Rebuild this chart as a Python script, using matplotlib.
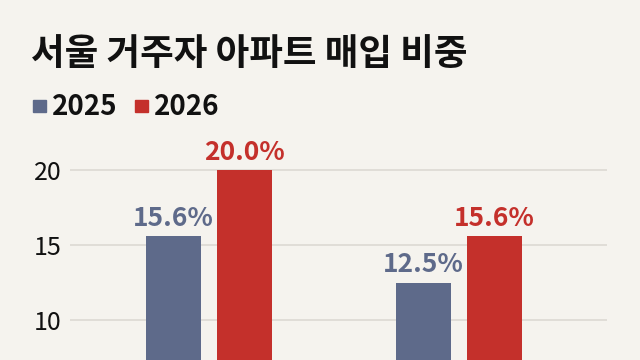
import matplotlib
matplotlib.use("Agg")
import matplotlib.pyplot as plt
import numpy as np

plt.rcParams['font.family'] = ['Noto Sans CJK KR', 'DejaVu Sans']

title = "서울 거주자 아파트 매입 비중"
series_names = ["2025", "2026"]
values_2025 = [15.6, 12.5]
values_2026 = [20.0, 15.6]
yticks = [10, 15, 20]

bg = "#f5f3ee"
c_blue = "#5e6a8a"
c_red = "#c4302b"

fig = plt.figure(figsize=(6.4, 3.6), dpi=100, facecolor=bg)
# axes extends below figure bottom (chart is cropped)
ax = fig.add_axes([70/640, -110/360, (607-70)/640, 330/360])
ax.set_facecolor(bg)
ax.set_ylim(0, 22)
ax.set_xlim(-0.556, 1.592)

x = np.arange(len(values_2025))
w = 0.22
off = 0.143
for xs, vals, col in [(x - off, values_2025, c_blue), (x + off, values_2026, c_red)]:
    ax.bar(xs, vals, width=w, color=col, zorder=3)
    for xi, v in zip(xs, vals):
        ax.text(xi, v + 0.68, f"{v:.1f}%", ha='center', va='baseline', color=col,
                fontsize=19, fontweight='bold')

ax.set_yticks(yticks)
ax.set_yticklabels([str(t) for t in yticks], fontsize=18)
ax.tick_params(axis='y', length=0, pad=6, labelcolor='#111111')
ax.tick_params(axis='x', length=0, labelbottom=False)
ax.grid(axis='y', color='#dcd9d3', linewidth=1.2, zorder=0)
for s in ax.spines.values():
    s.set_visible(False)

fig.text(31/640, 1 - 55/360, title, fontsize=26.3, fontweight='black', color='#111111',
         ha='left', va='center')

# legend
lx = [33, 135]
for name, col, px in zip(series_names, [c_blue, c_red], lx):
    fig.patches.append(plt.Rectangle((px/640, 1 - 112/360), 13/640, 12/360,
                                     transform=fig.transFigure, color=col))
    fig.text((px + 19)/640, 1 - 115/360, name, fontsize=20, fontweight='bold',
             color='#111111', ha='left', va='baseline')

fig.savefig("out.png", dpi=100, facecolor=bg)
